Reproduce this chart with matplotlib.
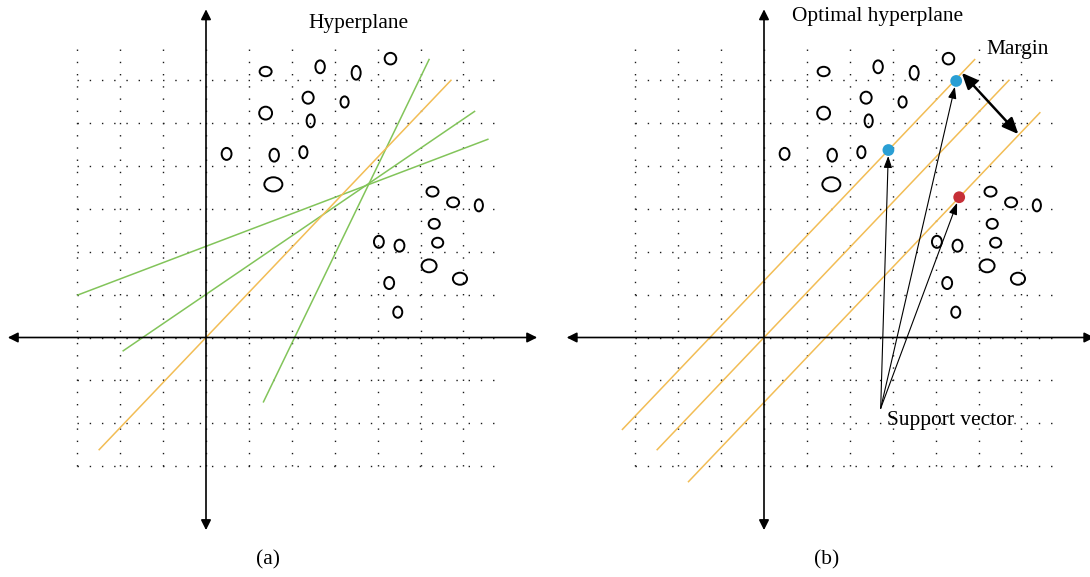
import numpy as np
import matplotlib
matplotlib.use("Agg")
import matplotlib.pyplot as plt
from matplotlib.patches import Ellipse

plt.rcParams['font.family'] = ['Liberation Serif', 'DejaVu Serif']

# sample points, in grid units with the origin at the axis crossing
sample_x = [1.39, 2.66, 3.50, 4.30, 2.38, 3.23, 1.39, 2.44, 0.48, 1.59, 2.27, 1.57,
            5.28, 5.76, 6.36, 5.32, 4.03, 4.51, 5.40, 5.20, 5.92, 4.27, 4.47]
sample_y = [6.20, 6.31, 6.17, 6.50, 5.59, 5.49, 5.23, 5.05, 4.28, 4.25, 4.32, 3.57,
            3.40, 3.15, 3.08, 2.65, 2.23, 2.14, 2.21, 1.67, 1.37, 1.27, 0.59]
sample_w = [0.28, 0.22, 0.21, 0.27, 0.26, 0.19, 0.30, 0.19, 0.23, 0.22, 0.19, 0.42,
            0.28, 0.28, 0.19, 0.26, 0.23, 0.23, 0.26, 0.35, 0.33, 0.23, 0.21]
sample_h = [0.22, 0.30, 0.32, 0.27, 0.28, 0.26, 0.30, 0.30, 0.28, 0.30, 0.28, 0.33,
            0.23, 0.23, 0.28, 0.23, 0.28, 0.28, 0.23, 0.30, 0.28, 0.28, 0.26]

# candidate separating lines in (a): (x0, y0, x1, y1)
green_lines = [(-2.99, 0.99, 6.57, 4.62),
               (-1.93, -0.31, 6.26, 5.27),
               (1.34, -1.50, 5.20, 6.48)]

# parallel hyperplanes y = slope * (x - offset)
slope = 1.05
plane_offset = [-1.26, 0.0, 1.44]
plane_x_start = [-3.30, -2.49, -1.76]
plane_x_end = [4.91, 5.71, 6.43]

# support vectors
sv_x = [4.48, 2.90, 4.55]
sv_y = [5.98, 4.37, 3.27]
sv_color = ['#2a9fd4', '#2a9fd4', '#c62f37']
sv_label_xy = (2.72, -1.65)

margin_from = (4.61, 6.17)
margin_to = (5.93, 4.74)

GREEN = '#82c45a'
ORANGE = '#f2bd55'
FS = 15.4

U = 42.9          # pixels per grid unit
W, H = 1090, 577
Y0 = 337.5        # pixel row of the horizontal axis


def setup(fig, left_px, right_px, origin_px):
    ax = fig.add_axes([left_px / W, 0, (right_px - left_px) / W, 1])
    ax.set_xlim((left_px - origin_px) / U, (right_px - origin_px) / U)
    ax.set_ylim((Y0 - H) / U, Y0 / U)
    ax.axis('off')
    return ax


def draw_grid(ax):
    dots = dict(color='#1a1a1a', lw=1.0, ls=(0, (1.0, 7.8)), zorder=1)
    for t in np.arange(-3, 7):
        ax.plot([t, t], [-3, 6.8], **dots)
        ax.plot([-3, 6.8], [t, t], **dots)


def draw_axes(ax, left, right, top=7.65, bottom=-4.49):
    style = '<|-|>,head_length=0.6,head_width=0.3'
    for a, b in [((left, 0), (right, 0)), ((0, bottom), (0, top))]:
        ax.annotate('', xy=b, xytext=a,
                    arrowprops=dict(arrowstyle=style, color='black', lw=1.2,
                                    mutation_scale=10, shrinkA=0, shrinkB=0),
                    annotation_clip=False, zorder=3)


def draw_samples(ax):
    for x, y, w, h in zip(sample_x, sample_y, sample_w, sample_h):
        ax.add_patch(Ellipse((x, y), w, h, fill=False, ec='black', lw=1.4, zorder=4))


fig = plt.figure(figsize=(W / 100, H / 100), dpi=100)

# (a) several possible hyperplanes
ax = setup(fig, 0, 545, 206)
draw_grid(ax)
draw_axes(ax, -4.62, 7.72)
draw_samples(ax)
for x0, y0, x1, y1 in green_lines:
    ax.plot([x0, x1], [y0, y1], color=GREEN, lw=1.1, zorder=2)
xs = np.array([plane_x_start[1], plane_x_end[1]])
ax.plot(xs, slope * (xs - plane_offset[1]), color=ORANGE, lw=1.1, zorder=2)
ax.text(2.38, 7.21, 'Hyperplane', fontsize=FS, ha='left', va='baseline')
ax.text(1.45, -5.28, '(a)', fontsize=FS, ha='center', va='baseline')

# (b) optimal hyperplane with margin
ax = setup(fig, 545, 1090, 764)
draw_grid(ax)
draw_axes(ax, -4.60, 7.70)
draw_samples(ax)
for off, xa, xb in zip(plane_offset, plane_x_start, plane_x_end):
    xs = np.array([xa, xb])
    ax.plot(xs, slope * (xs - off), color=ORANGE, lw=1.1, zorder=2)
ax.scatter(sv_x, sv_y, s=72, c=sv_color, zorder=5, linewidths=0)
for x, y in zip(sv_x, sv_y):
    ax.annotate('', xy=(x, y), xytext=sv_label_xy,
                arrowprops=dict(arrowstyle='-|>,head_length=0.7,head_width=0.25',
                                color='black', lw=0.8, mutation_scale=10,
                                shrinkA=0, shrinkB=4.3), zorder=4)
ax.annotate('', xy=margin_to, xytext=margin_from,
            arrowprops=dict(arrowstyle='<|-|>,head_length=0.8,head_width=0.35',
                            color='black', lw=1.8, mutation_scale=12,
                            shrinkA=0, shrinkB=0), zorder=4)
ax.text(0.65, 7.38, 'Optimal hyperplane', fontsize=FS, ha='left', va='baseline')
ax.text(5.19, 6.61, 'Margin', fontsize=FS, ha='left', va='baseline')
ax.text(2.86, -2.04, 'Support vector', fontsize=FS, ha='left', va='baseline')
ax.text(1.46, -5.28, '(b)', fontsize=FS, ha='center', va='baseline')

fig.savefig('out.png', dpi=100, facecolor='white')
